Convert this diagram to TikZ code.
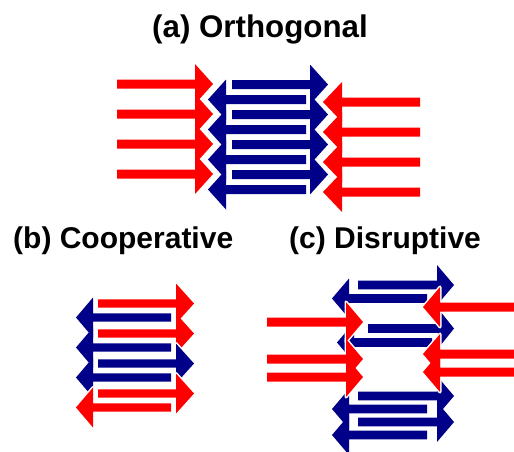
\documentclass[tikz,border=0pt]{standalone}
\usepackage{fontspec}
\setmainfont{Liberation Sans}
\definecolor{arrred}{RGB}{255,0,0}
\definecolor{arrblue}{RGB}{0,0,136}
\tikzset{
  halo/.style={draw=white, line width=3pt, line join=round},
  redfill/.style={fill=arrred},
  bluefill/.style={fill=arrblue},
  caption/.style={anchor=base west, inner sep=0pt, font=\bfseries\fontsize{30}{36}\selectfont},
  bigcaption/.style={caption, font=\bfseries\fontsize{31.3}{37}\selectfont}
}
% block arrow: tail x, head base x, tip x, centre y, half bar width, style
\newcommand{\arrpath}[6]{%
  \path[#6] (#1,#4-#5) -- (#2,#4-#5) -- (#2,#4-20) -- (#3,#4)
    -- (#2,#4+20) -- (#2,#4+#5) -- (#1,#4+#5) -- cycle;}
% (a) orthogonal stack
\newcommand{\orthoblue}[1]{%
  \foreach \yy in {84.5,114.5,144.5,174.5}{\arrpath{232}{310}{328}{\yy}{4.5}{#1}}%
  \foreach \yy in {99.5,129.5,159.5,189.5}{\arrpath{306}{226}{208}{\yy}{4.5}{#1}}}
\newcommand{\ortholeft}[1]{%
  \foreach \yy in {84,114,144,174}{\arrpath{117}{195}{213}{\yy}{4.5}{#1}}}
\newcommand{\orthoright}[1]{%
  \foreach \yy in {102,132,162,192}{\arrpath{420}{342}{323}{\yy}{4.5}{#1}}}
% (b) cooperative stack
\newcommand{\coopredtop}[1]{%
  \foreach \yy in {303.5,333.5}{\arrpath{98}{176}{194}{\yy}{4.2}{#1}}}
\newcommand{\coopblue}[1]{%
  \foreach \yy in {317.5,347.5,377.5}{\arrpath{171}{93}{76}{\yy}{4.2}{#1}}%
  \arrpath{98}{176}{194}{363.5}{4.2}{#1}}
\newcommand{\coopredbot}[1]{%
  \arrpath{98}{176}{194}{393.5}{4.2}{#1}%
  \arrpath{171}{93}{76}{407.5}{4.2}{#1}}
% (c) disruptive stack
\newcommand{\disrblue}[1]{%
  \foreach \yy in {285,396,422}{\arrpath{358}{437}{454}{\yy}{4.3}{#1}}%
  \foreach \yy in {298.5,409,435}{\arrpath{427}{349}{332}{\yy}{4.3}{#1}}%
  \arrpath{368}{438}{454}{328.5}{4.3}{#1}%
  \arrpath{432}{354}{337}{342.5}{4.3}{#1}}
\newcommand{\disrleft}[1]{%
  \foreach \yy in {322,359,377}{\arrpath{267}{346}{363}{\yy}{4.5}{#1}}}
\newcommand{\disrright}[1]{%
  \foreach \yy in {307,354,372}{\arrpath{520}{440}{423}{\yy}{4.5}{#1}}}
\begin{document}
\begin{tikzpicture}[x=1pt,y=-1pt]
\useasboundingbox (0,0) rectangle (514,451);
\clip (0,0) rectangle (514,451);

\node[bigcaption] (capa) at (152,37) {(a) Orthogonal};
\node[caption] (capb) at (13,248) {(b) Cooperative};
\node[caption] (capc) at (289,248) {(c) Disruptive};

% (a)
\orthoblue{halo}\orthoblue{bluefill}
\ortholeft{halo}\ortholeft{redfill}
\orthoright{halo}\orthoright{redfill}

% (b)
\coopredtop{halo}\coopredtop{redfill}
\coopblue{halo}\coopblue{bluefill}
\coopredbot{halo}\coopredbot{redfill}

% (c)
\disrblue{halo}\disrblue{bluefill}
\disrleft{halo}\disrleft{redfill}
\disrright{halo}\disrright{redfill}
\end{tikzpicture}
\end{document}
